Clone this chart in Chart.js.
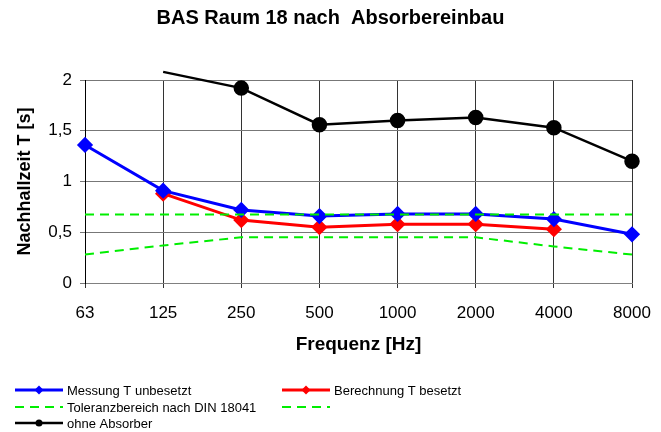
<!DOCTYPE html>
<html>
<head>
<meta charset="utf-8">
<script src="https://cdn.jsdelivr.net/npm/chart.js@4.4.0/dist/chart.umd.min.js"></script>
<style>
  html, body { margin: 0; padding: 0; background: #fff; }
  #wrap { width: 661px; height: 432px; }
</style>
</head>
<body>
<div id="wrap"><canvas id="grafik"></canvas></div>
<script>
const frequenzen = ["63", "125", "250", "500", "1000", "2000", "4000", "8000"];
const messungUnbesetzt = [1.36, 0.91, 0.72, 0.66, 0.68, 0.68, 0.63, 0.48];
const berechnungBesetzt = [null, 0.88, 0.62, 0.55, 0.58, 0.58, 0.53, null];
const toleranzOben = [0.675, 0.675, 0.675, 0.675, 0.675, 0.675, 0.675, 0.675];
const toleranzUnten = [0.28, 0.37, 0.45, 0.45, 0.45, 0.45, 0.36, 0.28];
const ohneAbsorber = [null, 2.08, 1.92, 1.56, 1.60, 1.63, 1.53, 1.20];
const yTicks = [0, 0.5, 1, 1.5, 2];

const SCHRIFT = "'Liberation Sans', Arial, sans-serif";

// Legende in zwei Spalten unter dem Diagramm
const legendePlugin = {
  id: "legende",
  afterDraw(chart) {
    const ctx = chart.ctx;
    const spalten = [15, 282];
    const zeilen = [390, 407, 423];
    chart.data.datasets.forEach((ds, i) => {
      const x = spalten[i % 2];
      const y = zeilen[Math.floor(i / 2)];
      ctx.save();
      ctx.strokeStyle = ds.borderColor;
      ctx.lineWidth = ds.borderWidth;
      ctx.setLineDash(ds.borderDash || []);
      ctx.beginPath();
      ctx.moveTo(x, y);
      ctx.lineTo(x + 48, y);
      ctx.stroke();
      ctx.setLineDash([]);
      if (ds.pointStyle && ds.pointRadius !== 0) {
        ctx.fillStyle = ds.borderColor;
        ctx.beginPath();
        if (ds.pointStyle === "circle") {
          ctx.arc(x + 24, y, 3.5, 0, Math.PI * 2);
        } else {
          ctx.moveTo(x + 24, y - 4.5);
          ctx.lineTo(x + 28.5, y);
          ctx.lineTo(x + 24, y + 4.5);
          ctx.lineTo(x + 19.5, y);
          ctx.closePath();
        }
        ctx.fill();
      }
      if (ds.label) {
        ctx.fillStyle = "#000";
        ctx.font = "13px " + SCHRIFT;
        ctx.textBaseline = "middle";
        ctx.fillText(ds.label, x + 52, y + 1);
      }
      ctx.restore();
    });
  }
};

function linie(label, daten, farbe, stil) {
  return Object.assign({
    label: label,
    data: daten,
    borderColor: farbe,
    backgroundColor: farbe,
    borderWidth: 3,
    pointStyle: "rectRot",
    pointRadius: 6,
    pointHoverRadius: 6,
    spanGaps: false,
    tension: 0
  }, stil || {});
}

new Chart(document.getElementById("grafik"), {
  type: "line",
  data: {
    labels: frequenzen,
    datasets: [
      linie("Messung T unbesetzt", messungUnbesetzt, "#0000ff", { order: 2 }),
      linie("Berechnung T besetzt", berechnungBesetzt, "#ff0000", { order: 3 }),
      linie("Toleranzbereich nach DIN 18041", toleranzOben, "#00ee00",
        { borderWidth: 2, borderDash: [9, 6], pointRadius: 0, pointStyle: false, order: 1 }),
      linie("", toleranzUnten, "#00ee00",
        { borderWidth: 2, borderDash: [9, 6], pointRadius: 0, pointStyle: false, order: 1 }),
      linie("ohne Absorber", ohneAbsorber, "#000000", {
        borderWidth: 2.5, pointStyle: "circle", order: 4, clip: false,
        pointRadius: c => (c.raw > yTicks[yTicks.length - 1] ? 0 : 6.5)
      })
    ]
  },
  options: {
    responsive: true,
    maintainAspectRatio: false,
    animation: false,
    events: [],
    layout: { padding: { top: 0, left: 0, right: 0, bottom: 72 } },
    plugins: {
      legend: { display: false },
      tooltip: { enabled: false },
      title: {
        display: true,
        text: "BAS Raum 18 nach  Absorbereinbau",
        color: "#000",
        font: { family: SCHRIFT, size: 20, weight: "bold" },
        padding: { top: 6, bottom: 50 }
      }
    },
    scales: {
      x: {
        offset: false,
        grid: { color: "#333", offset: false, tickLength: 5, drawTicks: true },
        border: { color: "#808080" },
        ticks: { color: "#000", font: { family: SCHRIFT, size: 17 }, padding: 15, maxRotation: 0 },
        title: {
          display: true,
          text: "Frequenz [Hz]",
          color: "#000",
          font: { family: SCHRIFT, size: 19, weight: "bold" },
          padding: { top: 6, bottom: 4 }
        },
        afterFit: s => { s.height = 77; s.paddingRight = 29; s.paddingLeft = 0; }
      },
      y: {
        min: 0,
        max: 2,
        afterBuildTicks: s => { s.ticks = yTicks.map(v => ({ value: v })); },
        grid: { color: "#777", tickLength: 5 },
        border: { color: "#000" },
        ticks: {
          color: "#000",
          font: { family: SCHRIFT, size: 17 },
          padding: 8,
          callback: v => String(v).replace(".", ",")
        },
        title: {
          display: true,
          text: "Nachhallzeit T [s]",
          color: "#000",
          font: { family: SCHRIFT, size: 18, weight: "bold" },
          padding: { top: 14, bottom: 4 }
        },
        afterFit: s => { s.width = 85; }
      }
    }
  },
  plugins: [legendePlugin]
});
</script>
</body>
</html>
